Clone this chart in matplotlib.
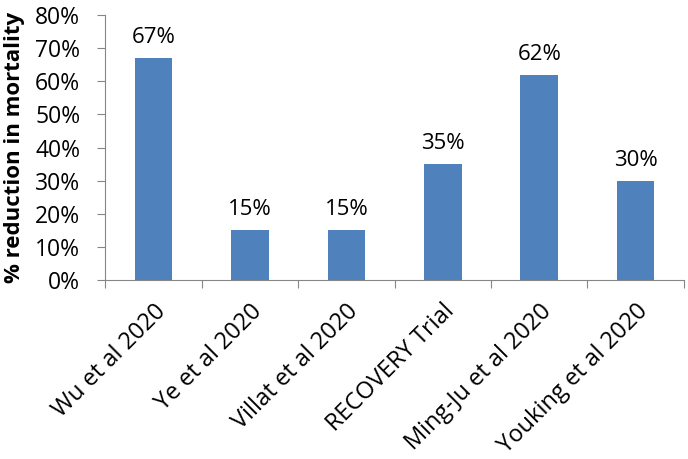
import numpy as np
import matplotlib
matplotlib.use("Agg")
import matplotlib.pyplot as plt
from matplotlib.ticker import PercentFormatter

studies = ["Wu et al 2020", "Ye et al 2020", "Villat et al 2020",
           "RECOVERY Trial", "Ming-Ju et al 2020", "Youking et al 2020"]
reduction = [67, 15, 15, 35, 62, 30]

plt.rcParams['font.family'] = ['Open Sans', 'DejaVu Sans']

fig = plt.figure(figsize=(6.88, 4.59), dpi=100)
ax = fig.add_axes([0.153, 0.39, 0.841, 0.577])

x = np.arange(len(studies))
bars = ax.bar(x, reduction, width=0.39, color='#4F81BD', zorder=2)
for b, v in zip(bars, reduction):
    ax.text(b.get_x() + b.get_width() / 2, v + 3, f"{v}%", ha='center', va='bottom',
            fontsize=16)

ax.set_xlim(-0.5, len(studies) - 0.5)
ax.set_ylim(0, 80)
ax.set_yticks(np.arange(0, 81, 10))
ax.yaxis.set_major_formatter(PercentFormatter(decimals=0))
ax.tick_params(axis='y', labelsize=16.5, length=6, color='#868686', pad=12)

ax.set_xticks(np.arange(-0.5, len(studies), 1.0))
ax.set_xticklabels([])
ax.set_xticks(x, minor=True)
ax.set_xticklabels(studies, minor=True, rotation=45, ha='right', rotation_mode='anchor',
                   fontsize=17)
ax.tick_params(axis='x', which='major', length=6, color='#868686')
ax.tick_params(axis='x', which='minor', length=0, pad=14)

for s in ['top', 'right']:
    ax.spines[s].set_visible(False)
for s in ['left', 'bottom']:
    ax.spines[s].set_color('#868686')

ax.set_ylabel("% reduction in mortality", fontsize=16, fontweight='bold', labelpad=7)

fig.savefig("out.png", dpi=100)
